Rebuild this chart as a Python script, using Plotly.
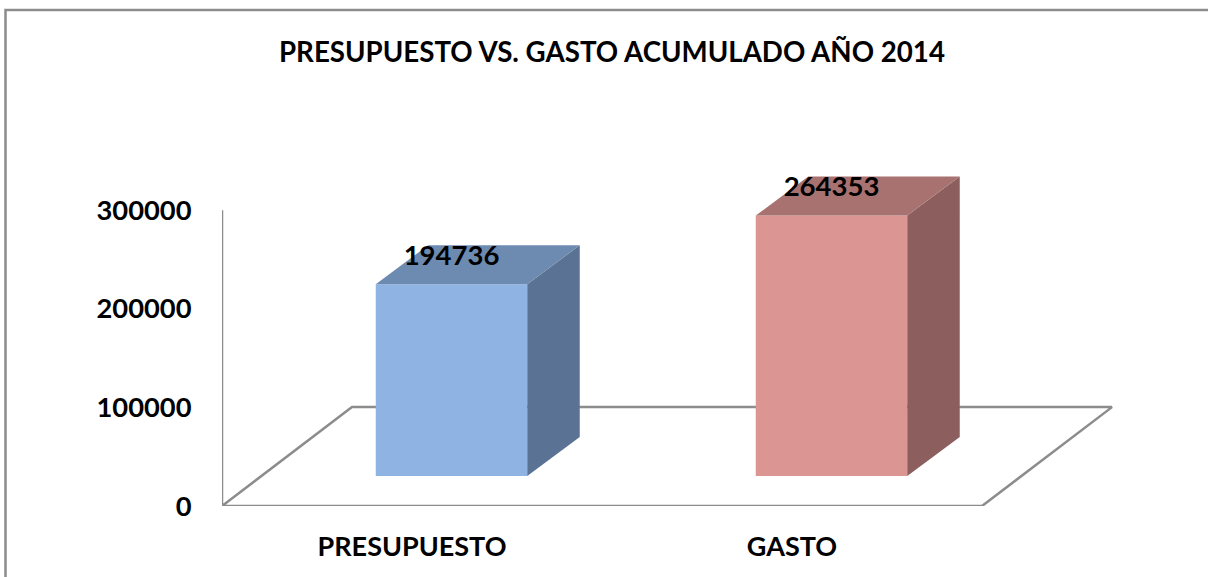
import plotly.graph_objects as go

categories = ["PRESUPUESTO", "GASTO"]
values = [194736, 264353]
y_ticks = [0, 100000, 200000, 300000]
title_text = "PRESUPUESTO VS. GASTO ACUMULADO AÑO 2014"
front_colors = ["#8FB3E3", "#DB9694"]
top_colors = ["#6D8AB0", "#A87270"]
side_colors = ["#5A7394", "#8C5F5E"]

W, H = 1208, 577
L, R, T, B = 222, 1130, 100, 506.5
PX_X = 380.0          # pixels per category
PX_Y = 300000 / 296   # value per pixel
FONT = "Lato, 'Open Sans', sans-serif"


def dx(px):
    return px / PX_X


def dy(px):
    return px * PX_Y


bar_w = dx(151.5)
front_shift_x, front_shift_y = dx(39.5), dy(30)
depth_x, depth_y = dx(52.5), dy(39)
floor_x, floor_y = dx(130), dy(99)
x0, x1 = -0.5, 1.5
x_range = [x0, x0 + (R - L) / PX_X]
y_range = [0, (B - T) * PX_Y]

fig = go.Figure()

# floor and value axis (bottom layer, main axes)
fig.add_trace(go.Scatter(
    x=[x0, x0 + floor_x, x1 + floor_x, x1, x0, x0],
    y=[0, floor_y, floor_y, 0, 0, 300000],
    mode="lines", line=dict(color="#8C8C8C", width=2.5),
    cliponaxis=False, hoverinfo="skip", showlegend=False))

# bars on overlaying axes, so that they hide the floor
for i, v in enumerate(values):
    left = i + front_shift_x - bar_w / 2
    right = left + bar_w
    base = front_shift_y
    top = v + base
    fig.add_trace(go.Scatter(
        x=[right, right + depth_x, right + depth_x, right, right],
        y=[base, base + depth_y, top + depth_y, top, base],
        xaxis="x2", yaxis="y2",
        mode="lines", fill="toself", fillcolor=side_colors[i],
        line=dict(width=0), cliponaxis=False, hoverinfo="skip", showlegend=False))
    fig.add_trace(go.Scatter(
        x=[left, left + depth_x, right + depth_x, right, left],
        y=[top, top + depth_y, top + depth_y, top, top],
        xaxis="x2", yaxis="y2",
        mode="lines", fill="toself", fillcolor=top_colors[i],
        line=dict(width=0), cliponaxis=False, hoverinfo="skip", showlegend=False))
    fig.add_trace(go.Bar(
        x=[i + front_shift_x], y=[v], base=[base], width=[bar_w],
        xaxis="x2", yaxis="y2",
        marker=dict(color=front_colors[i], line=dict(width=0)),
        cliponaxis=False, showlegend=False, hoverinfo="skip"))
    fig.add_trace(go.Scatter(
        x=[i + front_shift_x], y=[top + dy(26.5)],
        xaxis="x2", yaxis="y2",
        mode="text", text=["<b>%d</b>" % v], textposition="middle center",
        textfont=dict(family=FONT, size=27.5, color="#000000"),
        cliponaxis=False, hoverinfo="skip", showlegend=False))

fig.update_layout(
    width=W, height=H, autosize=False,
    paper_bgcolor="white", plot_bgcolor="rgba(0,0,0,0)",
    margin=dict(l=L, r=W - R, t=T, b=H - B, pad=0),
    barmode="overlay",
    title=dict(text="<b>" + title_text + "</b>", x=612 / W, xanchor="center",
               y=1 - 52 / H, yanchor="middle",
               font=dict(family=FONT, size=27.7, color="#000000")),
    xaxis=dict(range=x_range, tickmode="array",
               tickvals=[0, 1], ticktext=["<b>%s</b>" % c for c in categories],
               tickfont=dict(family=FONT, size=27, color="#000000"),
               showgrid=False, zeroline=False, showline=False,
               ticks="outside", ticklen=17, tickcolor="rgba(0,0,0,0)"),
    yaxis=dict(range=y_range, tickmode="array",
               tickvals=y_ticks, ticktext=["<b>%d</b>" % t for t in y_ticks],
               tickfont=dict(family=FONT, size=27.3, color="#000000"),
               showgrid=False, zeroline=False, showline=False,
               ticks="outside", ticklen=24, tickcolor="rgba(0,0,0,0)"),
    xaxis2=dict(range=x_range, overlaying="x", visible=False),
    yaxis2=dict(range=y_range, overlaying="y", visible=False),
    shapes=[dict(type="rect", xref="paper", yref="paper", layer="below",
                 x0=(5.5 - L) / (R - L), x1=(1300 - L) / (R - L),
                 y0=(B - 700) / (B - T), y1=(B - 10) / (B - T),
                 line=dict(color="#8C8C8C", width=2.5))],
)

fig.write_html("out.html", post_script="document.body.style.margin='0';",
               config=dict(displayModeBar=False))
